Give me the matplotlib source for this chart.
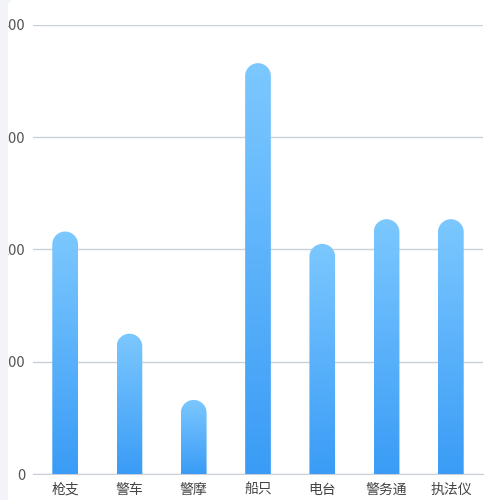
# 装备数量柱状图（圆角渐变柱）
import numpy as np
import matplotlib.pyplot as plt
from matplotlib.patches import FancyBboxPatch, PathPatch, Rectangle
from matplotlib.path import Path
from matplotlib.colors import LinearSegmentedColormap

plt.rcParams['font.family'] = ['Noto Sans CJK SC', 'DejaVu Sans']

categories = ['枪支', '警车', '警摩', '船只', '电台', '警务通', '执法仪']
values = [216, 125, 66, 366, 205, 227, 227]
yticks = [0, 100, 200, 300, 400]

fig = plt.figure(figsize=(5, 5), dpi=100)
fig.patch.set_facecolor('#f3f4f9')
# 白色面板
panel = FancyBboxPatch((8 / 500, -0.02), 1.1, 1.02, boxstyle='round,pad=0,rounding_size=0.012',
                       transform=fig.transFigure, facecolor='white', edgecolor='none', zorder=-5)
fig.patches.append(panel)

ax = fig.add_axes([0.066, 0.052, 0.9, 0.898])
ax.set_facecolor('none')
x = np.arange(len(categories))
bars = ax.bar(x, values, width=0.4, color='none')
ax.set_xlim(-0.5, len(categories) - 0.5)
ax.set_ylim(0, 400)
ax.set_yticks(yticks)
ax.set_xticks(x)
ax.set_xticklabels(categories)
ax.tick_params(length=0, colors='#444444')
ax.tick_params(axis='x', pad=6.5, labelsize=10)
ax.tick_params(axis='y', pad=5.5, labelsize=10.5, labelcolor='#555555')
ax.grid(axis='y', color='#cad0da', linewidth=1)
ax.set_axisbelow(True)
for s in ['top', 'right', 'left']:
    ax.spines[s].set_visible(False)
ax.spines['bottom'].set_color('#cad0da')

cmap = LinearSegmentedColormap.from_list('blue', ['#3a9cf6', '#7cc8ff'])
grad = np.linspace(0, 1, 256).reshape(-1, 1)
fig.canvas.draw()
for b in bars:
    x0, y0 = ax.transData.transform((b.get_x(), 0))
    x1, y1 = ax.transData.transform((b.get_x() + b.get_width(), b.get_height()))
    r = (x1 - x0) / 2
    cx = (x0 + x1) / 2
    theta = np.linspace(0, np.pi, 40)
    verts = [(x0, y0), (x1, y0), (x1, y1 - r)]
    verts += [(cx + r * np.cos(t), y1 - r + r * np.sin(t)) for t in theta]
    verts += [(x0, y1 - r), (x0, y0)]
    path = Path(verts)
    clip = PathPatch(path, transform=None, facecolor='none', edgecolor='none')
    ax.add_patch(clip)
    im = ax.imshow(grad, cmap=cmap, origin='lower', aspect='auto',
                   extent=(b.get_x(), b.get_x() + b.get_width(), 0, b.get_height()), zorder=3)
    im.set_clip_path(clip)
ax.set_xlim(-0.5, len(categories) - 0.5)
ax.set_ylim(0, 400)

# 左侧灰条遮住数字首位
fig.patches.append(Rectangle((0, 0), 8 / 500, 1, transform=fig.transFigure,
                             facecolor='#f3f4f9', edgecolor='none', zorder=10))

fig.savefig('out.png', dpi=100)
